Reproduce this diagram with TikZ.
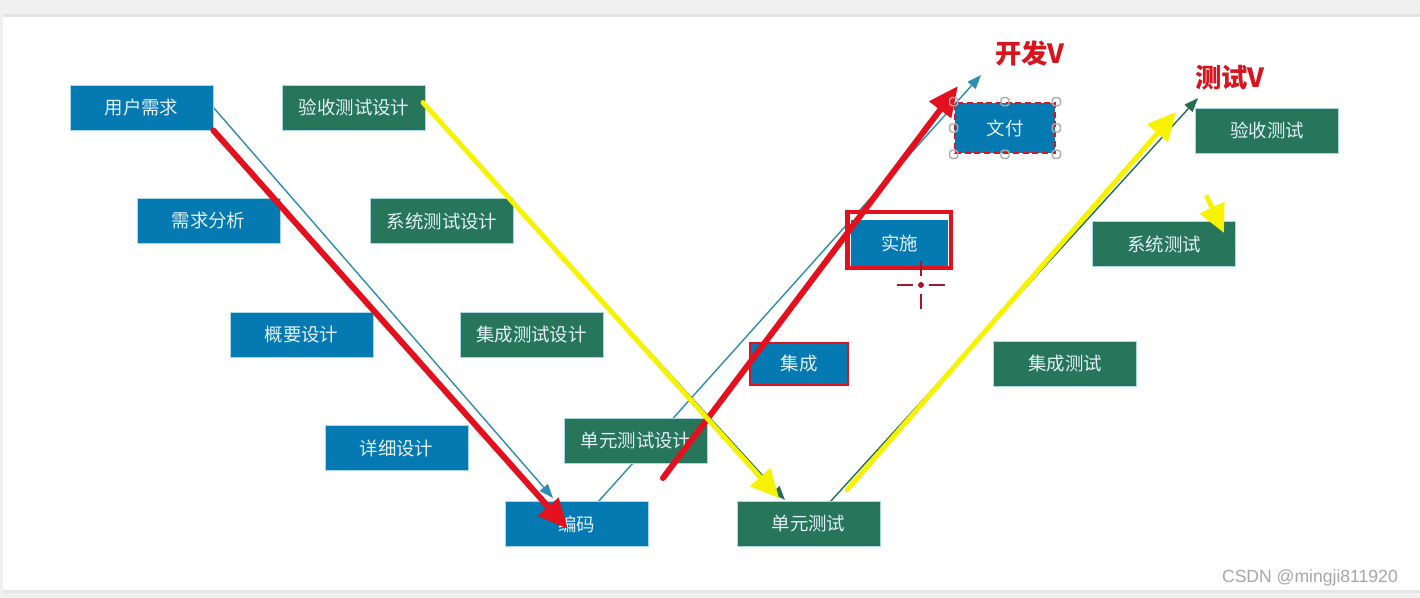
\documentclass[tikz,border=0pt]{standalone}
\usepackage{fontspec}
\newfontfamily\cjk{Noto Sans CJK SC}
\setsansfont{Liberation Sans}
\usetikzlibrary{arrows.meta,calc}
\pgfdeclarelayer{back}
\pgfdeclarelayer{bg}
\pgfsetlayers{back,bg,main}
\definecolor{bblue}{HTML}{0579B1}
\definecolor{bgreen}{HTML}{27755A}
\definecolor{bedge}{HTML}{A8D8E6}
\definecolor{btext}{HTML}{E2F1F6}
\definecolor{hred}{HTML}{E3111D}
\definecolor{lred}{HTML}{D8141F}
\definecolor{ayellow}{HTML}{F7F200}
\definecolor{tblue}{HTML}{2E8DB5}
\definecolor{tgreen}{HTML}{236F50}
\definecolor{xred}{HTML}{A3182B}
\tikzset{
  box/.style={rectangle, minimum width=2.86cm, minimum height=0.9cm, inner sep=0pt,
    text=btext, font=\cjk\fontsize{10.5}{12}\selectfont, draw=bedge, line width=0.5pt},
  bbox/.style={box, fill=bblue},
  gbox/.style={box, fill=bgreen},
  thinblue/.style={draw=tblue, line width=0.8pt, -{Triangle[length=8pt,width=6pt]}},
  thingreen/.style={draw=tgreen, line width=0.8pt, -{Triangle[length=8pt,width=6pt]}},
  redarrow/.style={draw=hred, line width=3.4pt, line cap=round, -{Triangle[length=17pt,width=15pt]}},
  yelarrow/.style={draw=ayellow, line width=2.8pt, line cap=round, -{Triangle[length=16pt,width=15pt]}},
  handle/.style={rectangle, minimum size=0.16cm, inner sep=0pt, draw=gray!65, line width=0.8pt, rounded corners=1pt},
  crossline/.style={draw=xred, line width=1.4pt},
  vlabel/.style={text=lred, font=\cjk\bfseries\fontsize{15}{18}\selectfont}
}
\begin{document}
\begin{tikzpicture}[x=0.02cm,y=-0.02cm]
\useasboundingbox (0,0) rectangle (1420,598);
\begin{pgfonlayer}{back}
  \fill[gray!12] (0,0) rectangle (1420,598);
  \fill[gray!22] (3,14) rectangle (1420,18);
  \fill[gray!20] (3,589) rectangle (1420,593);
  \fill[white] (3,17) rectangle (1420,590);
\end{pgfonlayer}

% left V (development side)
\node[bbox] (yh) at (141.5,107.5) {用户需求};
\node[bbox] (xq) at (208.5,221) {需求分析};
\node[bbox] (gy) at (301.5,334.5) {概要设计};
\node[bbox] (xx) at (396.5,448) {详细设计};
\node[bbox] (bm) at (576.5,524) {编码};
% test design
\node[gbox] (ys) at (354,107.5) {验收测试设计};
\node[gbox] (xs) at (442,221) {系统测试设计};
\node[gbox] (js) at (531.5,334.5) {集成测试设计};
\node[gbox] (ds) at (636,440.5) {单元测试设计};
% right side
\node[gbox] (dy) at (808.5,524) {单元测试};
\node[gbox] (jc) at (1065,363.5) {集成测试};
\node[gbox] (xc) at (1164,244) {系统测试};
\node[gbox] (yc) at (1267,130.5) {验收测试};
% highlighted development steps
\node[bbox, minimum width=1.96cm, minimum height=0.84cm, draw=hred, line width=1.6pt] (jch) at (799,364) {集成};
\node[rectangle, minimum width=2.04cm, minimum height=1.08cm, fill=white, draw=hred, line width=1.7pt] (ssf) at (899,240) {};
\node[bbox, minimum width=1.94cm, minimum height=0.94cm, draw=none] (ss) at (899.5,243) {实施};
\draw[hred, line width=1.7pt] (ssf.south west) rectangle (ssf.north east);
\node[bbox, minimum width=2cm, minimum height=1cm, draw=hred, line width=1.5pt, dash pattern=on 3.5pt off 2pt] (wf) at (1005,128) {文付};

% labels
\node[vlabel] (kfv) at (1030,53) {开发V};
\node[vlabel] (csv) at (1230,78) {测试V};

% free ends
\coordinate (t1e) at (553,498);
\coordinate (t2s) at (598,502);
\coordinate (t2e) at (981,75);
\coordinate (g1e) at (785,500);
\coordinate (g2s) at (830,502);
\coordinate (g2e) at (1198,98);
\coordinate (r1e) at (568,529);
\coordinate (r2s) at (663,478);
\coordinate (r2e) at (958,86);
\coordinate (y1e) at (779,498);
\coordinate (y2s) at (847,490);
\coordinate (y2e) at (1176,112);
\coordinate (y3s) at (1207,197);
\coordinate (y3e) at (1224,233);
\coordinate (ch) at (921,285);

\begin{pgfonlayer}{bg}
  \draw[thinblue] (yh.east) -- (t1e);
  \draw[thinblue] (t2s) -- (t2e);
  \draw[thingreen] (ys.east) -- (g1e);
  \draw[thingreen] (g2s) -- (g2e);
\end{pgfonlayer}

% thick arrows
\draw[redarrow] (yh.south east) -- (r1e);
\draw[redarrow] (r2s) -- (r2e);
\draw[yelarrow] ($(ys.east)+(-3,-5)$) -- (y1e);
\draw[yelarrow] (y2s) -- (y2e);
\draw[yelarrow] (y3s) -- (y3e);

% selection handles
\foreach \a in {north west,north,north east,west,east,south west,south,south east}
  \node[handle] at (wf.\a) {};

% crosshair
\draw[crossline] ($(ch)+(-24,0)$) -- ($(ch)+(-8,0)$);
\draw[crossline] ($(ch)+(8,0)$) -- ($(ch)+(24,0)$);
\draw[crossline] ($(ch)+(0,-24)$) -- ($(ch)+(0,-9)$);
\draw[crossline] ($(ch)+(0,9)$) -- ($(ch)+(0,24)$);
\fill[xred] (ch) circle[radius=1.7pt];

% watermark
\node[anchor=east, text=gray!70, font=\sffamily\fontsize{10}{12}\selectfont] (wm) at (1404,578) {CSDN @mingji811920};
\end{tikzpicture}
\end{document}
